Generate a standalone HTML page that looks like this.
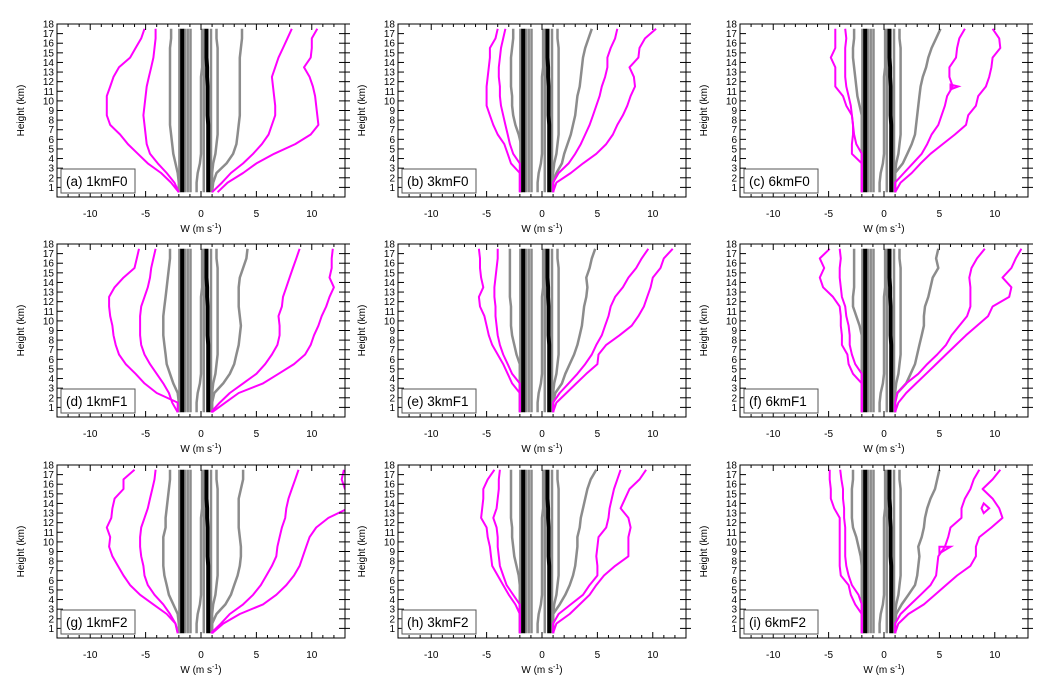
<!DOCTYPE html>
<html><head><meta charset="utf-8"><style>
body{margin:0;background:#fff;}
svg{display:block;font-family:"Liberation Sans",sans-serif;}
</style></head><body>
<svg id="chart" width="1054" height="694"></svg>
<script>
const heights=[0.5,1.5,2.5,3.5,4.5,5.5,6.5,7.5,8.5,9.5,10.5,11.5,12.5,13.5,14.5,15.5,16.5,17.5];
const panelLabels=["(a) 1kmF0","(b) 3kmF0","(c) 6kmF0","(d) 1kmF1","(e) 3kmF1","(f) 6kmF1","(g) 1kmF2","(h) 3kmF2","(i) 6kmF2"];
const xTicks=[-10,-5,0,5,10];
const yTicks=[1,2,3,4,5,6,7,8,9,10,11,12,13,14,15,16,17,18];
const magOuterL=[
[-2.0,-2.7,-3.6,-4.8,-5.7,-6.6,-7.3,-8.2,-8.5,-8.5,-8.5,-8.2,-7.9,-7.4,-6.4,-5.9,-5.4,-5.1],
[-2.0,-2.0,-2.0,-2.8,-3.1,-3.4,-4.0,-4.4,-4.7,-5.0,-5.0,-5.0,-4.9,-4.8,-4.7,-4.7,-4.2,-4.0],
[-2.0,-2.0,-2.0,-2.0,-2.9,-2.9,-2.8,-2.8,-2.9,-3.4,-3.7,-4.4,-4.4,-4.4,-4.8,-4.4,-4.4,-4.4],
[-2.1,-2.1,-4.0,-5.1,-5.9,-6.8,-7.4,-7.7,-7.9,-8.0,-8.2,-8.3,-8.3,-7.8,-7.0,-6.0,-5.8,-5.6],
[-2.0,-2.0,-2.0,-2.7,-3.1,-3.5,-4.0,-4.5,-4.8,-5.0,-5.2,-5.6,-5.7,-5.3,-5.5,-5.6,-5.6,-5.7],
[-2.0,-2.0,-2.0,-2.0,-2.8,-3.2,-3.3,-3.8,-3.8,-3.9,-3.9,-4.0,-4.6,-5.5,-5.8,-5.4,-5.8,-4.9],
[-2.1,-2.3,-3.1,-4.3,-5.5,-6.4,-7.0,-7.5,-8.0,-8.3,-8.2,-8.5,-8.1,-8.0,-7.8,-7.0,-7.0,-6.0],
[-2.0,-2.0,-2.0,-2.4,-3.0,-3.5,-4.0,-4.5,-4.6,-4.7,-4.9,-5.0,-5.5,-5.4,-5.3,-5.3,-4.9,-4.3],
[-2.0,-2.0,-2.0,-2.6,-3.0,-3.2,-3.9,-4.0,-4.0,-4.0,-4.0,-4.0,-4.0,-4.5,-4.8,-4.8,-4.9,-4.9]];
const magInnerL=[
[-2.0,-2.4,-3.1,-3.9,-4.6,-4.9,-5.0,-5.1,-5.2,-5.1,-5.0,-4.9,-4.7,-4.5,-4.3,-4.2,-4.1,-4.1],
[-2.0,-2.0,-2.0,-2.0,-2.6,-2.9,-3.1,-3.3,-3.5,-3.7,-3.8,-3.8,-3.9,-3.9,-3.8,-3.7,-3.5,-3.3],
[-2.0,-2.0,-2.0,-2.0,-2.0,-2.5,-2.7,-2.8,-2.9,-3.0,-3.2,-3.4,-3.5,-3.5,-3.5,-3.5,-3.4,-3.5],
[-2.1,-2.6,-2.9,-3.4,-4.0,-4.6,-5.1,-5.4,-5.5,-5.5,-5.5,-5.4,-5.1,-4.8,-4.6,-4.5,-4.3,-4.1],
[-2.0,-2.0,-2.0,-2.0,-2.7,-3.1,-3.5,-3.8,-4.0,-4.1,-4.2,-4.2,-4.3,-4.3,-4.2,-4.1,-4.0,-4.0],
[-2.0,-2.0,-2.0,-2.0,-2.0,-2.6,-2.9,-3.1,-3.1,-3.2,-3.4,-3.5,-3.8,-3.9,-4.0,-4.0,-3.9,-4.0],
[-2.1,-2.3,-2.8,-3.4,-4.2,-4.8,-5.1,-5.2,-5.4,-5.5,-5.5,-5.4,-5.1,-4.8,-4.6,-4.4,-4.2,-4.1],
[-2.0,-2.0,-2.0,-2.0,-2.6,-3.2,-3.5,-3.8,-3.9,-4.0,-4.0,-4.1,-4.4,-4.1,-4.0,-3.9,-3.9,-3.8],
[-2.0,-2.0,-2.0,-2.0,-2.3,-2.9,-3.2,-3.4,-3.5,-3.5,-3.5,-3.5,-3.6,-3.6,-3.7,-3.7,-3.85,-3.95]];
const magInnerR=[
[1.0,1.9,2.7,3.8,4.7,5.5,6.1,6.4,6.7,6.7,6.6,6.5,6.4,6.7,7.0,7.4,7.8,8.2],
[1.0,1.0,1.5,2.4,3.0,3.5,3.9,4.3,4.6,4.9,5.2,5.4,5.7,5.9,5.9,6.2,6.6,6.8],
[1.0,1.0,1.8,2.6,3.4,3.9,4.3,4.9,5.2,5.5,5.7,6.2,5.9,5.9,6.5,6.6,6.8,7.3],
[0.9,1.7,2.6,3.8,5.0,5.8,6.4,6.9,7.1,7.1,7.0,7.3,7.4,7.7,8.0,8.3,8.6,8.9],
[1.0,1.0,1.6,2.4,3.2,3.9,4.5,4.9,5.4,5.7,6.0,6.2,6.6,7.3,7.8,8.5,9.0,9.6],
[1.0,1.0,1.2,2.0,3.1,3.9,4.8,5.6,6.1,6.8,7.5,7.8,7.8,7.8,7.7,7.9,8.4,9.1],
[0.9,1.8,2.6,3.8,4.7,5.4,5.9,6.4,6.8,6.9,7.1,7.3,7.6,7.7,7.9,8.2,8.5,8.8],
[1.0,1.0,1.5,2.6,3.7,4.3,5.0,5.0,4.9,5.0,5.1,5.8,6.0,6.1,6.3,6.5,6.8,7.1],
[1.0,1.0,1.5,2.4,3.3,4.2,4.7,4.8,4.9,5.5,5.8,6.0,7.0,7.0,7.3,7.8,8.1,8.6]];
const magOuterR=[
[1.5,2.4,3.8,5.0,6.6,8.5,9.9,10.6,10.5,10.4,10.3,10.1,9.8,9.3,9.9,10.0,10.0,10.5],
[1.0,1.3,2.6,3.7,4.9,5.8,6.4,6.8,7.3,7.7,8.0,8.4,8.3,7.9,8.7,8.8,9.3,10.3],
[1.0,1.5,2.5,3.3,4.2,5.3,6.4,7.4,7.6,8.3,8.5,9.2,9.5,9.7,9.8,10.5,10.4,9.8],
[1.0,2.2,3.4,5.6,7.0,8.4,9.4,9.9,10.2,10.6,10.9,11.3,11.6,12.0,11.6,11.8,11.8,11.9],
[1.0,1.3,2.2,3.1,4.0,5.0,5.1,5.8,7.0,8.1,8.7,9.2,9.5,9.8,10.0,10.7,11.0,11.8],
[1.0,1.3,2.0,2.9,3.8,4.7,5.6,6.5,7.4,8.4,9.4,9.8,11.3,11.5,10.7,11.5,11.9,12.4],
[1.0,2.0,3.5,5.6,6.8,7.7,8.4,8.9,9.2,9.5,9.8,10.4,11.5,13.3,14.0,13.0,12.7,12.9],
[1.0,1.3,2.5,3.4,4.3,4.9,5.6,6.6,7.8,7.8,7.8,8.0,7.8,7.1,7.5,7.9,8.8,9.4],
[1.0,1.3,2.2,3.6,4.6,5.6,6.6,7.8,8.3,8.3,8.6,9.7,10.7,10.4,9.8,8.9,9.8,10.5]];
const grayOuterL=[
[-2.0,-2.0,-2.1,-2.3,-2.5,-2.6,-2.7,-2.8,-2.8,-2.8,-2.8,-2.8,-2.8,-2.8,-2.8,-2.8,-2.7,-2.7],
[-1.9,-1.9,-1.9,-1.9,-1.9,-1.9,-2.1,-2.4,-2.6,-2.7,-2.7,-2.8,-2.8,-2.8,-2.8,-2.7,-2.6,-2.6],
[-2.0,-2.0,-2.0,-2.0,-2.0,-2.0,-2.0,-2.0,-2.0,-2.2,-2.4,-2.5,-2.6,-2.7,-2.8,-2.8,-2.7,-2.7],
[-2.0,-2.0,-2.1,-2.5,-2.8,-3.1,-3.2,-3.3,-3.4,-3.4,-3.4,-3.3,-3.2,-3.1,-3.0,-2.9,-2.8,-2.8],
[-2.0,-2.0,-2.0,-2.0,-2.0,-2.0,-2.3,-2.5,-2.7,-2.8,-2.8,-2.8,-2.9,-2.9,-2.9,-2.9,-2.9,-2.9],
[-2.0,-2.0,-2.0,-2.0,-2.0,-2.0,-2.0,-2.0,-2.0,-2.2,-2.5,-2.8,-2.8,-2.7,-2.7,-2.7,-2.7,-2.7],
[-2.0,-2.0,-2.1,-2.5,-2.9,-3.1,-3.3,-3.4,-3.4,-3.4,-3.4,-3.2,-3.2,-3.1,-3.0,-2.9,-2.8,-2.8],
[-2.0,-2.0,-2.0,-2.0,-2.0,-2.0,-2.1,-2.3,-2.5,-2.6,-2.7,-2.7,-2.8,-2.8,-2.8,-2.8,-2.8,-2.8],
[-2.0,-2.0,-2.0,-2.0,-2.0,-2.0,-2.0,-2.0,-2.1,-2.3,-2.5,-2.8,-2.9,-2.9,-2.9,-2.9,-2.8,-2.8]];
const grayOuterR=[
[1.0,1.1,1.4,2.3,2.9,3.2,3.3,3.4,3.5,3.5,3.5,3.5,3.5,3.5,3.5,3.6,3.7,3.7],
[1.0,1.0,1.3,1.8,2.0,2.3,2.6,2.8,3.0,3.1,3.2,3.4,3.5,3.6,3.7,3.9,4.2,4.5],
[1.0,1.0,1.0,1.7,2.1,2.5,2.8,2.9,3.0,3.1,3.2,3.3,3.5,3.8,4.0,4.3,4.7,5.1],
[1.0,1.0,1.2,2.0,2.6,3.0,3.2,3.4,3.5,3.6,3.5,3.4,3.4,3.4,3.5,3.8,4.1,4.2],
[1.0,1.0,1.2,1.8,2.1,2.5,2.9,3.2,3.4,3.6,3.7,3.8,4.0,4.1,4.0,4.3,4.5,4.8],
[1.0,1.0,1.2,2.0,2.4,2.8,3.0,3.2,3.4,3.6,3.6,3.7,4.0,4.2,4.4,4.9,4.7,4.9],
[1.0,1.0,1.4,2.2,2.7,3.0,3.3,3.5,3.6,3.6,3.5,3.4,3.4,3.4,3.4,3.6,3.8,3.8],
[1.0,1.0,1.0,1.6,2.1,2.5,2.8,3.0,3.1,3.2,3.2,3.4,3.5,3.7,3.9,4.1,4.4,4.9],
[1.0,1.0,1.1,1.6,2.2,2.8,3.0,3.1,3.2,3.1,3.4,3.6,3.7,3.9,4.2,4.6,4.8,5.0]];
const grayInner1=[-1.95,-1.95,-1.95,-1.95,-1.95,-1.95,-1.95,-1.95,-1.95,-1.95,-1.95,-1.95,-1.95,-1.95,-1.95,-1.95,-1.95,-1.95];
const grayInner2=[-1.2,-1.2,-1.2,-1.2,-1.2,-1.2,-1.2,-1.2,-1.2,-1.2,-1.2,-1.2,-1.2,-1.2,-1.2,-1.2,-1.2,-1.2];
const grayInner3=[-0.4,-0.4,-0.3,-0.1,0.0,0.0,0.0,0.0,0.0,0.0,0.0,0.0,0.0,0.1,0.1,0.1,0.1,0.1];
const grayInner4=[0.25,0.25,0.25,0.25,0.25,0.25,0.25,0.25,0.25,0.25,0.25,0.25,0.25,0.25,0.25,0.25,0.25,0.25];
const grayInner5=[1.0,1.0,1.0,1.1,1.3,1.4,1.5,1.5,1.5,1.5,1.5,1.5,1.5,1.5,1.5,1.5,1.4,1.4];
const grayInner6=[-1.45,-1.45,-1.45,-1.45,-1.45,-1.45,-1.45,-1.45,-1.45,-1.45,-1.45,-1.45,-1.45,-1.45,-1.45,-1.45,-1.45,-1.45];
const grayInner7=[-0.95,-0.95,-0.95,-0.95,-0.95,-0.95,-0.95,-0.95,-0.95,-0.95,-0.95,-0.95,-0.95,-0.95,-0.95,-0.95,-0.95,-0.95];
const grayInner8=[0.9,0.9,0.9,0.9,0.9,0.9,0.9,0.9,0.9,0.9,0.9,0.9,0.9,0.9,0.9,0.9,0.9,0.9];
const blackL=[-1.7,-1.7,-1.7,-1.7,-1.7,-1.7,-1.7,-1.7,-1.7,-1.7,-1.7,-1.7,-1.7,-1.7,-1.7,-1.7,-1.7,-1.7];
const blackR=[0.65,0.65,0.65,0.65,0.65,0.65,0.65,0.65,0.6,0.6,0.6,0.6,0.55,0.55,0.5,0.5,0.5,0.5];
const loopPanel=[2,8,8];
const loopX=[[6.0,6.7,6.0],[9.0,9.5,9.0,8.8],[5.0,6.0,5.0]];
const loopY=[[11.7,11.5,11.2],[14.0,13.5,13.0,13.5],[9.5,9.5,8.8]];

const NS='http://www.w3.org/2000/svg';
const svg=document.getElementById('chart');
const colLeft=[57,398,740], rowTop=[24,244,465];
const PW=288, PH=173, XMIN=-13, XMAX=13, YMIN=0, YMAX=18;
function mk(tag,attrs,parent){const e=document.createElementNS(NS,tag);for(const k in attrs)e.setAttribute(k,attrs[k]);(parent||svg).appendChild(e);return e;}

for(let p=0;p<9;p++){
  const L=colLeft[p%3], T=rowTop[Math.floor(p/3)];
  const sx=v=>L+(v-XMIN)/(XMAX-XMIN)*PW;
  const sy=v=>T+PH-(v-YMIN)/(YMAX-YMIN)*PH;
  const g=mk('g',{});
  
  
  const cp=mk('clipPath',{id:'cp'+p},g);
  mk('rect',{x:L,y:T,width:PW,height:PH},cp);
  const plot=mk('g',{'clip-path':'url(#cp'+p+')'},g);
  function line(xs,color,w,name){
    let d='';xs.forEach((x,i)=>{d+=(i?'L':'M')+sx(x).toFixed(1)+','+sy(heights[i]).toFixed(1);});
    const e=mk('path',{d:d,fill:'none',stroke:color,'stroke-width':w,'stroke-linejoin':'round'},plot);
    
    
  }
  [grayInner1,grayInner2,grayInner3,grayInner4,grayInner5,grayInner6,grayInner7,grayInner8].forEach((a,i)=>line(a,'#8c8c8c',2.5,'gray-inner-line-'+(i+1)));
  line(grayOuterL[p],'#8c8c8c',2.5,'gray-outer-left-line');
  line(grayOuterR[p],'#8c8c8c',2.5,'gray-outer-right-line');
  line(blackL,'#000',4,'black-left-line');
  line(blackR,'#000',4,'black-right-line');
  line(magOuterL[p],'#ff00ff',2,'magenta-outer-left-line');
  line(magInnerL[p],'#ff00ff',2,'magenta-inner-left-line');
  line(magInnerR[p],'#ff00ff',2,'magenta-inner-right-line');
  line(magOuterR[p],'#ff00ff',2,'magenta-outer-right-line');
  loopPanel.forEach((lp,k)=>{ if(lp!==p)return;
    const pts=loopX[k].map((x,i)=>sx(x).toFixed(1)+','+sy(loopY[k][i]).toFixed(1)).join(' ');
    const e=mk('polygon',{points:pts,fill:'none',stroke:'#ff00ff','stroke-width':2},plot);
    
    
  });
  const fr=mk('rect',{x:L,y:T,width:PW,height:PH,fill:'none',stroke:'#000','stroke-width':1},g);
  
  
  for(let v=XMIN;v<=XMAX;v++){
    const major=xTicks.includes(v), len=major?6:3, x=sx(v);
    mk('line',{x1:x,x2:x,y1:T+PH,y2:T+PH-len,stroke:'#000'},g);
    mk('line',{x1:x,x2:x,y1:T,y2:T+len,stroke:'#000'},g);
  }
  xTicks.forEach(v=>{const t=mk('text',{x:sx(v),y:T+PH+20,'font-size':10,'text-anchor':'middle'},g);t.textContent=v;
    
    });
  const xl=mk('text',{x:L+PW/2,y:T+PH+35,'font-size':10,'text-anchor':'middle'},g);
  xl.innerHTML='W (m s<tspan dy="-4" font-size="7">-1</tspan><tspan dy="4">)</tspan>';
  
  
  yTicks.forEach(v=>{const y=sy(v);
    mk('line',{x1:L,x2:L+6,y1:y,y2:y,stroke:'#000'},g);
    mk('line',{x1:L+PW,x2:L+PW-6,y1:y,y2:y,stroke:'#000'},g);
    mk('line',{x1:L+PW,x2:L+PW+5,y1:y,y2:y,stroke:'#000'},g);
    const t=mk('text',{x:L-3,y:y+3.5,'font-size':10,'text-anchor':'end'},g);t.textContent=v;
    
    
  });
  const yl=mk('text',{x:0,y:0,'font-size':10,'text-anchor':'middle',transform:'translate('+(L-33)+','+(T+PH/2)+') rotate(-90)'},g);
  yl.textContent='Height (km)';
  
  
  const bx=mk('rect',{x:L+4,y:T+PH-28,width:74,height:24,fill:'#fff',stroke:'#555','stroke-width':1},g);
  
  
  const lt=mk('text',{x:L+9,y:T+PH-11,'font-size':13.5},g);
  lt.textContent=panelLabels[p];
  
  
}
</script>
</body></html>
